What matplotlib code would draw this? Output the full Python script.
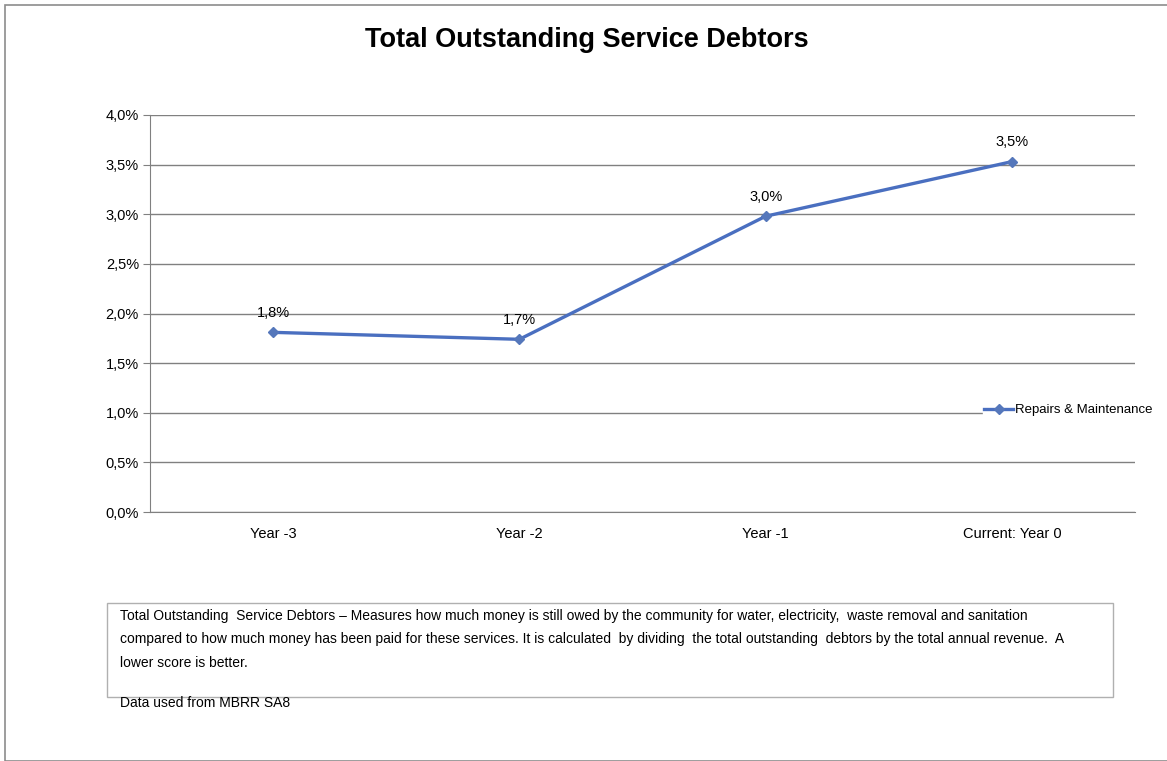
import numpy as np
import matplotlib
matplotlib.use('Agg')
import matplotlib.pyplot as plt
from matplotlib.patches import Rectangle
from matplotlib.ticker import FuncFormatter

plt.rcParams['font.family'] = ['Liberation Sans', 'DejaVu Sans']

# data
years = ['Year -3', 'Year -2', 'Year -1', 'Current: Year 0']
values = [1.81, 1.74, 2.98, 3.53]
value_labels = ['1,8%', '1,7%', '3,0%', '3,5%']
series_name = 'Repairs & Maintenance'
title = 'Total Outstanding Service Debtors'
note = ('Total Outstanding  Service Debtors \u2013 Measures how much money is still owed by the community for water, electricity,  waste removal and sanitation\n'
        'compared to how much money has been paid for these services. It is calculated  by dividing  the total outstanding  debtors by the total annual revenue.  A\n'
        'lower score is better.')
source = 'Data used from MBRR SA8'

W, H = 1167, 761
fig = plt.figure(figsize=(W / 100, H / 100), dpi=100)

# outer frame
fig.patches.append(Rectangle((5 / W, 0), 1.0, 1 - 5 / H, transform=fig.transFigure,
                             fill=False, edgecolor='#8c8c8c', linewidth=1.2))

ax = fig.add_axes([150 / W, 1 - 512 / H, (1135 - 150) / W, (512 - 115) / H])
x = np.arange(len(years))
line_color = '#4a6fc0'
ax.plot(x, values, color=line_color, linewidth=2.4, marker='D', markersize=5.5,
        markerfacecolor='#5577bb', markeredgecolor='#5577bb', label=series_name, zorder=3)
for xi, v, lab in zip(x, values, value_labels):
    ax.annotate(lab, (xi, v), xytext=(0, 9), textcoords='offset points', ha='center',
                va='bottom', fontsize=10.5)

ax.set_xlim(-0.5, len(years) - 0.5)
ax.set_ylim(0, 4.0)
ax.set_yticks(np.arange(0, 4.01, 0.5))
ax.yaxis.set_major_formatter(FuncFormatter(lambda v, p: ('%.1f%%' % v).replace('.', ',')))
ax.set_xticks(x)
ax.set_xticklabels(years)
ax.grid(axis='y', color='#808080', linewidth=1.0)
ax.set_axisbelow(True)
for s in ['top', 'right']:
    ax.spines[s].set_visible(False)
for s in ['left', 'bottom']:
    ax.spines[s].set_color('#808080')
ax.tick_params(axis='y', length=5, color='#808080', labelsize=10.5, pad=3)
ax.tick_params(axis='x', length=0, labelsize=10.5, pad=11)

leg = ax.legend(loc='center left', bbox_to_anchor=((983 - 150) / (1135 - 150), (512 - 410) / (512 - 115)),
                frameon=True, fancybox=False, framealpha=1, edgecolor='white',
                handlelength=2.2, handletextpad=0.15, borderpad=0.1, borderaxespad=0,
                prop={'size': 9.5})

fig.text(587 / W, 1 - 40 / H, title, ha='center', va='center', fontsize=19.5, fontweight='bold')

# note box
fig.patches.append(Rectangle((107 / W, 1 - 697 / H), (1113 - 107) / W, (697 - 603) / H,
                             transform=fig.transFigure, fill=False, edgecolor='#b0b0b0', linewidth=1))
fig.text(120 / W, 1 - 609 / H, note, ha='left', va='top', fontsize=10, linespacing=1.85)
fig.text(120 / W, 1 - 703 / H, source, ha='left', va='center', fontsize=10)

fig.savefig('out.png', dpi=100)
